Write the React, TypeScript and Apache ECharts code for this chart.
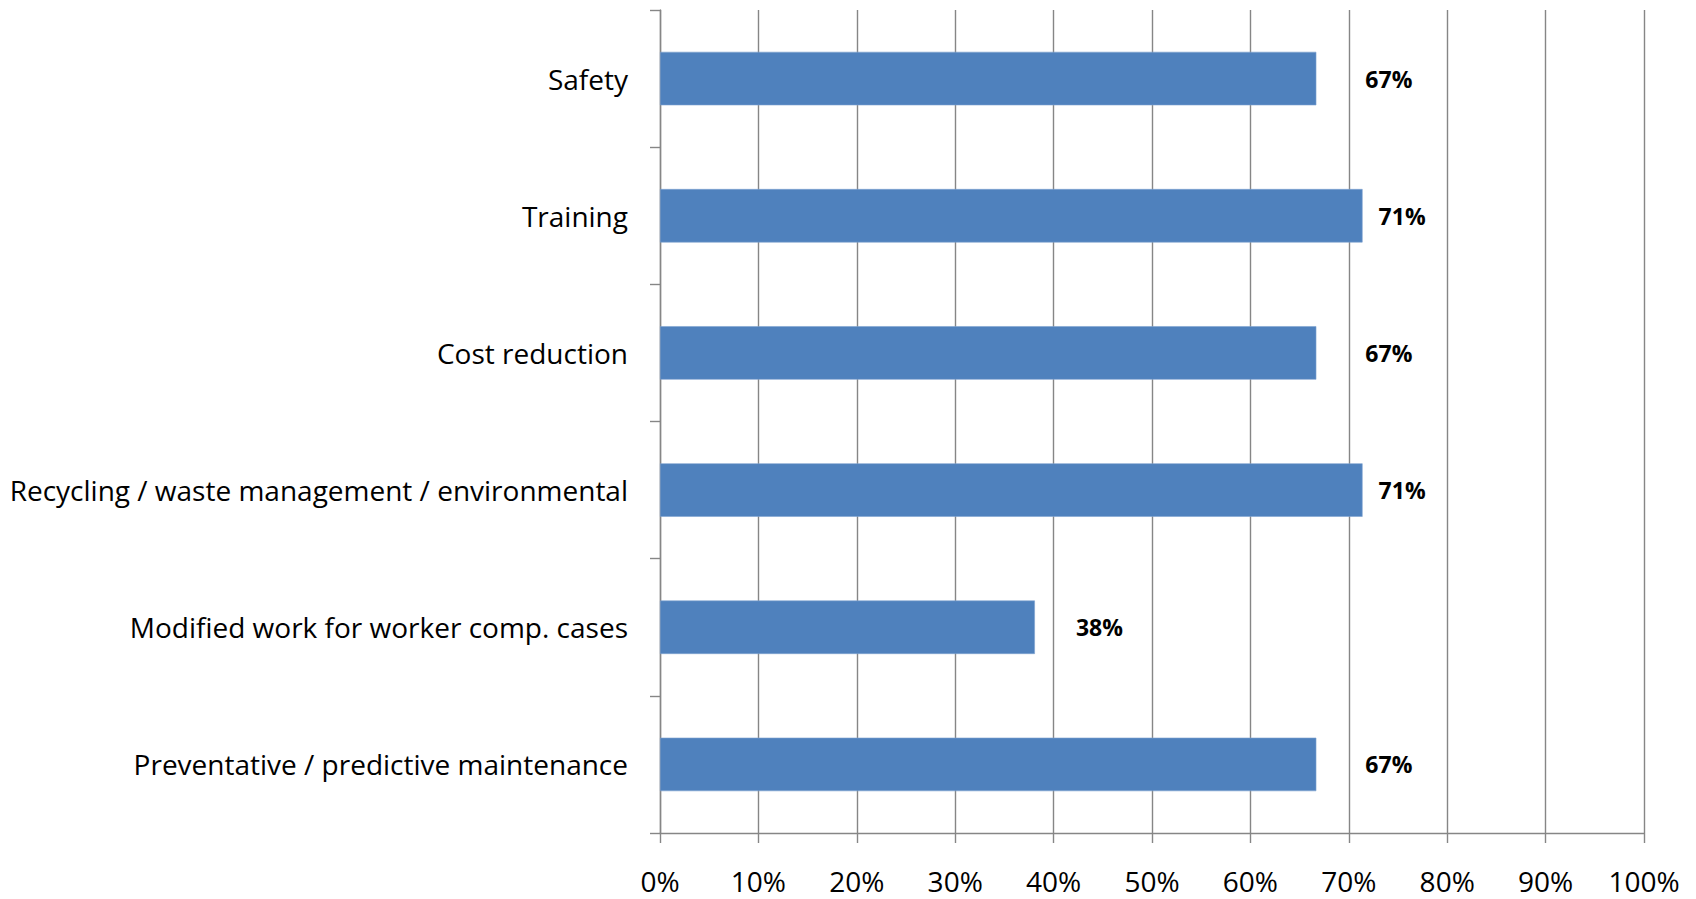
import React, { useEffect, useRef } from "react";
import * as echarts from "echarts";

const categories = [
  "Preventative / predictive maintenance",
  "Modified work for worker comp. cases",
  "Recycling / waste management / environmental",
  "Cost reduction",
  "Training",
  "Safety",
];
const values = [66.7, 38.1, 71.4, 66.7, 71.4, 66.7];
const valueLabels = ["67%", "38%", "71%", "67%", "71%", "67%"];
const xTicks = [0, 10, 20, 30, 40, 50, 60, 70, 80, 90, 100];
// label gaps beyond bar ends (px), as placed in the original
const labelGaps = [49, 41, 16, 49, 16, 49];

export default function App() {
  const ref = useRef<HTMLDivElement>(null);
  useEffect(() => {
    if (!ref.current) return;
    const chart = echarts.init(ref.current, undefined, { renderer: "svg" });
    const font = "'Open Sans', sans-serif";
    chart.setOption({
      animation: false,
      grid: { left: 660, right: 52, top: 10, bottom: 66, containLabel: false },
      xAxis: {
        type: "value",
        min: xTicks[0],
        max: xTicks[xTicks.length - 1],
        interval: 10,
        axisLine: { show: true, lineStyle: { color: "#868686", width: 1.4 } },
        axisTick: { show: true, length: 10, lineStyle: { color: "#868686", width: 1.4 } },
        splitLine: { show: true, lineStyle: { color: "#868686", width: 1.4 } },
        axisLabel: {
          formatter: (v: number) => `${v}%`,
          fontFamily: font,
          fontSize: 28,
          color: "#000",
          margin: 34,
        },
      },
      yAxis: {
        type: "category",
        data: categories,
        axisLine: { show: true, lineStyle: { color: "#868686", width: 1.4 } },
        axisTick: { show: true, length: 10, lineStyle: { color: "#868686", width: 1.4 } },
        splitLine: { show: false },
        axisLabel: {
          fontFamily: font,
          fontSize: 28,
          color: "#000",
          margin: 32,
          padding: [0, 0, 4, 0],
        },
      },
      series: [
        {
          type: "bar",
          barWidth: "39%",
          data: values.map((v, i) => ({
            value: v,
            label: { distance: labelGaps[i] },
          })),
          itemStyle: { color: "#4F81BD", borderColor: "#7FA3D0", borderWidth: 0.6 },
          label: {
            show: true,
            position: "right",
            formatter: (p: any) => valueLabels[p.dataIndex],
            fontFamily: font,
            fontWeight: "bold",
            fontSize: 23,
            color: "#000",
          },
        },
      ],
    });
    return () => chart.dispose();
  }, []);
  return (
    <div
      ref={ref}
      style={{ position: "absolute", left: 0, top: 0, width: 1696, height: 899 }}
    />
  );
}
